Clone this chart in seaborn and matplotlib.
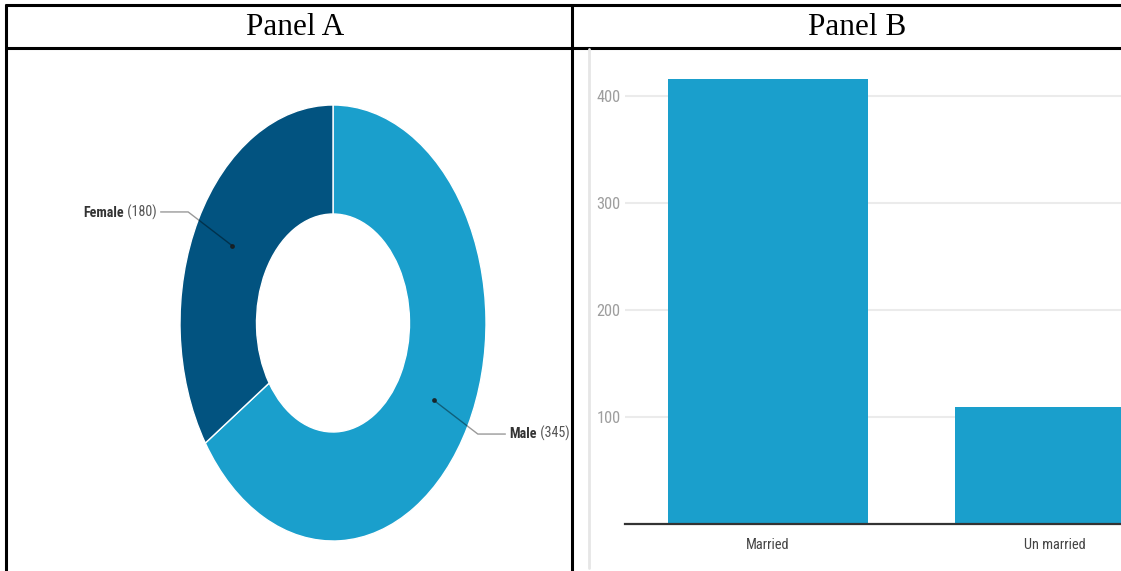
import numpy as np
import pandas as pd
import matplotlib
matplotlib.use("Agg")
import matplotlib.pyplot as plt
from matplotlib import font_manager
from matplotlib.lines import Line2D
import seaborn as sns

# ---------------- data ----------------
gender_labels = ["Male", "Female"]
gender_values = [345, 180]
marital_labels = ["Married", "Un married"]
marital_values = [416, 109]
y_ticks = [100, 200, 300, 400]
panel_titles = ["Panel A", "Panel B"]

# ---------------- style ----------------
sns.set_theme(style="white")
entries = font_manager.fontManager.ttflist
avail = {f.name for f in entries}
family, stretch, k = "Roboto", "normal", 1.0
for name in ["Roboto Condensed", "Liberation Sans Narrow", "Open Sans Condensed",
             "Noto Sans Condensed", "DejaVu Sans Condensed"]:
    if name in avail:
        family, k = name, 1.2
        break
else:
    for pref in ["Roboto", "Noto Sans", "Open Sans", "Liberation Sans", "DejaVu Sans"]:
        hits = [f for f in entries if f.name == pref and str(f.stretch) in
                ("condensed", "semi-condensed", "extra-condensed")]
        if hits:
            family, stretch, k = pref, str(hits[0].stretch), 1.15
            break
if family not in avail:
    family = "DejaVu Sans"
plt.rcParams["font.family"] = [family, "DejaVu Sans"]
plt.rcParams["font.stretch"] = stretch

MALE_C = "#1a9fcc"
FEMALE_C = "#025380"

W, H = 1121, 571
fig = plt.figure(figsize=(W / 100, H / 100), dpi=100)
fig.patch.set_facecolor("white")


def fx(px):
    return px / W


def fy(py):
    return 1 - py / H


# ---------------- table frame ----------------
lk = dict(color="black", linewidth=2.2, transform=fig.transFigure, solid_capstyle="butt")
fig.add_artist(Line2D([fx(5), 1], [fy(5), fy(5)], **lk))
fig.add_artist(Line2D([fx(5), 1], [fy(47.5), fy(47.5)], **lk))
fig.add_artist(Line2D([fx(6), fx(6)], [fy(4), 0], **lk))
fig.add_artist(Line2D([fx(571.5), fx(571.5)], [fy(4), 0], **lk))

for txt, cxp in zip(panel_titles, [295, 857]):
    fig.text(fx(cxp), fy(35), txt, ha="center", va="baseline",
             family=["Liberation Serif", "DejaVu Serif"], fontstretch="normal",
             fontsize=22.5, color="black")

# ---------------- Panel A: donut ----------------
cx, cy, rx, ry = 333, 323, 153, 218
top, bot, left, right = 49, 571, 8, 569
axA = fig.add_axes([fx(left), fy(bot), fx(right) - fx(left), fy(top) - fy(bot)])
wedges, _ = axA.pie(gender_values, startangle=90, counterclock=False,
                    colors=[MALE_C, FEMALE_C], radius=1.0,
                    wedgeprops=dict(width=0.5, edgecolor="white", linewidth=1.0))
axA.set_aspect("auto")
axA.set_xlim((left - cx) / rx, (right - cx) / rx)
axA.set_ylim((cy - bot) / ry, (cy - top) / ry)
axA.axis("off")

LFS = 8.4 * k
total = sum(gender_values)
ang0 = 90.0
for lab, val in zip(gender_labels, gender_values):
    span = 360.0 * val / total
    mid = np.deg2rad(ang0 - span / 2)
    ang0 -= span
    c, s = np.cos(mid), np.sin(mid)
    p0 = (0.75 * c, 0.75 * s)
    p1 = (1.075 * c, 1.075 * s)
    side = 1 if c > 0 else -1
    p2 = (p1[0] + side * 0.18, p1[1])
    axA.plot([p0[0], p1[0], p2[0]], [p0[1], p1[1], p2[1]], color="black", alpha=0.4,
             linewidth=1.0, clip_on=False)
    axA.plot([p0[0]], [p0[1]], "o", color="#1a1a1a", markersize=2.5, alpha=0.8)
    tx = p2[0] + side * 0.025
    if side > 0:
        t1 = axA.text(tx, p2[1], lab, ha="left", va="center", fontsize=LFS,
                      fontweight="bold", color="#333333", clip_on=False)
        axA.annotate(f" ({val})", xy=(1, 0), xycoords=t1, ha="left", va="bottom",
                     fontsize=LFS, color="#555555", annotation_clip=False)
    else:
        t1 = axA.text(tx, p2[1], f" ({val})", ha="right", va="center", fontsize=LFS,
                      color="#555555", clip_on=False)
        axA.annotate(lab, xy=(0, 0), xycoords=t1, ha="right", va="bottom",
                     fontsize=LFS, fontweight="bold", color="#333333", annotation_clip=False)

# ---------------- Panel B: bars ----------------
fig.add_artist(Line2D([fx(588.5), fx(588.5)], [fy(49), fy(568)], color="#e6e6e6",
                      linewidth=2.0, transform=fig.transFigure))

bl, br, bt, bb = 624.5, 1121, 48, 524
axB = fig.add_axes([fx(bl), fy(bb), fx(br) - fx(bl), fy(bt) - fy(bb)])
df = pd.DataFrame({"status": marital_labels, "count": marital_values})
sns.barplot(data=df, x="status", y="count", color=MALE_C, width=0.697,
            saturation=1, ax=axB, zorder=2, edgecolor="none")
axB.set_xlim(-0.5, (1121 - 768) / 287)
px_per_unit = 107 / 100
axB.set_ylim(0, (bb - bt) / px_per_unit)
axB.set_yticks(y_ticks)
axB.set_yticklabels([str(v) for v in y_ticks], color="#9e9e9e", fontsize=9.8 * k)
axB.yaxis.grid(True, color="#ebebeb", linewidth=1.5, zorder=0)
axB.xaxis.grid(False)
axB.set_axisbelow(True)
axB.tick_params(axis="y", length=0, pad=3)
axB.tick_params(axis="x", length=0, pad=10, labelsize=8.6 * k, labelcolor="#444444")
axB.set_xlabel("")
axB.set_ylabel("")
for sp in ["top", "right", "left"]:
    axB.spines[sp].set_visible(False)
axB.spines["bottom"].set_color("#333333")
axB.spines["bottom"].set_linewidth(1.6)
axB.spines["bottom"].set_zorder(3)
axB.patch.set_alpha(0)

fig.savefig("out.png", dpi=100, facecolor="white")
